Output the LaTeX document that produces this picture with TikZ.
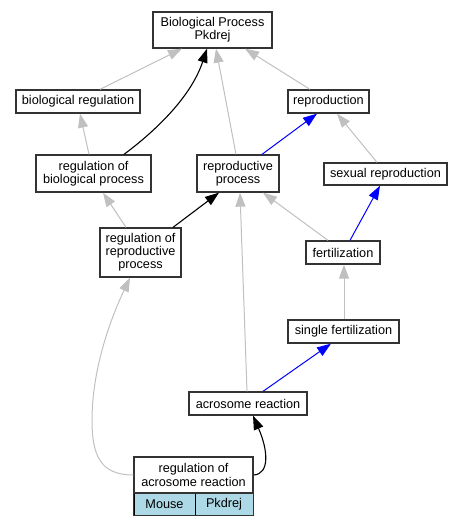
\documentclass[tikz,border=0pt]{standalone}
\usepackage{fontspec}
\setmainfont{Liberation Sans}
\usetikzlibrary{arrows.meta}
\definecolor{edgegray}{HTML}{C0C0C0}
\definecolor{boxborder}{HTML}{333333}
\definecolor{cellblue}{HTML}{ADD8E6}
\begin{document}
\begin{tikzpicture}[x=1pt,y=-1pt,
  box/.style={draw=boxborder,line width=1.3pt,fill=white,inner sep=0pt,align=center,
    font=\fontsize{12.7}{13.2}\selectfont},
  cell/.style={draw=black,line width=1pt,fill=cellblue,inner sep=0pt,
    font=\fontsize{12.7}{13.2}\selectfont},
  tip/.style={-{Triangle[length=14pt,width=10pt]}},
  isaedge/.style={tip,draw=edgegray,line width=1pt},
  partedge/.style={tip,draw=blue,line width=1pt},
  regedge/.style={tip,draw=black,line width=1.1pt}]
\useasboundingbox (0,0) rectangle (463,525);
% nodes
\node[box,minimum width=119pt,minimum height=36pt] (bp) at (212.5,30) {Biological Process\\Pkdrej};
\node[box,minimum width=124pt,minimum height=23pt] (breg) at (78,101.5) {biological regulation};
\node[box,minimum width=81pt,minimum height=23pt] (repro) at (328.5,101.5) {reproduction};
\node[box,minimum width=115pt,minimum height=37pt] (rbp) at (93.5,173.5) {regulation of\\biological process};
\node[box,minimum width=82pt,minimum height=37pt] (rp) at (238,173.5) {reproductive\\process};
\node[box,minimum width=123pt,minimum height=22pt] (sexr) at (385.5,174) {sexual reproduction};
\node[box,minimum width=81pt,minimum height=49pt] (rrp) at (140.5,252.5) {regulation of\\reproductive\\process};
\node[box,minimum width=74pt,minimum height=23pt] (fert) at (343,252.5) {fertilization};
\node[box,minimum width=111pt,minimum height=23pt] (sf) at (343.5,331.5) {single fertilization};
\node[box,minimum width=118pt,minimum height=23pt] (ar) at (248,403.5) {acrosome reaction};
\node[box,minimum width=119pt,minimum height=36pt] (rar) at (193.5,475) {regulation of\\acrosome reaction};
\node[cell,minimum width=61pt,minimum height=22pt] (mouse) at (164.5,504) {Mouse};
\node[cell,minimum width=58pt,minimum height=22pt] (pk) at (224,504) {Pkdrej};
\draw[boxborder,line width=1.3pt] (rar.south west) rectangle (pk.south east);
\coordinate (bend) at (92,420);
% edges
\draw[isaedge] ([xshift=22pt]breg.north) -- ([xshift=-30.5pt]bp.south);
\draw[regedge] ([xshift=30.5pt]rbp.north) .. controls (150,135) and (190,100) .. ([xshift=-5.5pt]bp.south);
\draw[isaedge] ([xshift=-2pt]rp.north) -- ([xshift=3.5pt]bp.south);
\draw[isaedge] ([xshift=-18.5pt]repro.north) -- ([xshift=32.5pt]bp.south);
\draw[isaedge] ([xshift=-4.5pt]rbp.north) -- ([xshift=2pt]breg.south);
\draw[partedge] ([xshift=24pt]rp.north) -- ([xshift=-11.5pt]repro.south);
\draw[isaedge] ([xshift=-8.5pt]sexr.north) -- ([xshift=8.5pt]repro.south);
\draw[isaedge] ([xshift=-14.5pt]rrp.north) -- ([xshift=9.5pt]rbp.south);
\draw[regedge] ([xshift=32.5pt]rrp.north) -- ([xshift=-19pt]rp.south);
\draw[isaedge] ([xshift=-15pt]fert.north) -- ([xshift=25pt]rp.south);
\draw[partedge] ([xshift=7pt]fert.north) -- ([xshift=-5.5pt]sexr.south);
\draw[isaedge] ([xshift=-1pt]ar.north) -- ([xshift=2pt]rp.south);
\draw[isaedge] ([xshift=0.5pt]sf.north) -- ([xshift=1pt]fert.south);
\draw[partedge] ([xshift=15pt]ar.north) -- ([xshift=-12.5pt]sf.south);
\draw[regedge] (rar.east) .. controls (270,474) and (268,450) .. ([xshift=5pt]ar.south);
\draw[isaedge] (rar.west) .. controls (100,475) and (92,455) .. (bend) .. controls (92,370) and (110,320) .. ([xshift=-10.5pt]rrp.south);
\end{tikzpicture}
\end{document}
